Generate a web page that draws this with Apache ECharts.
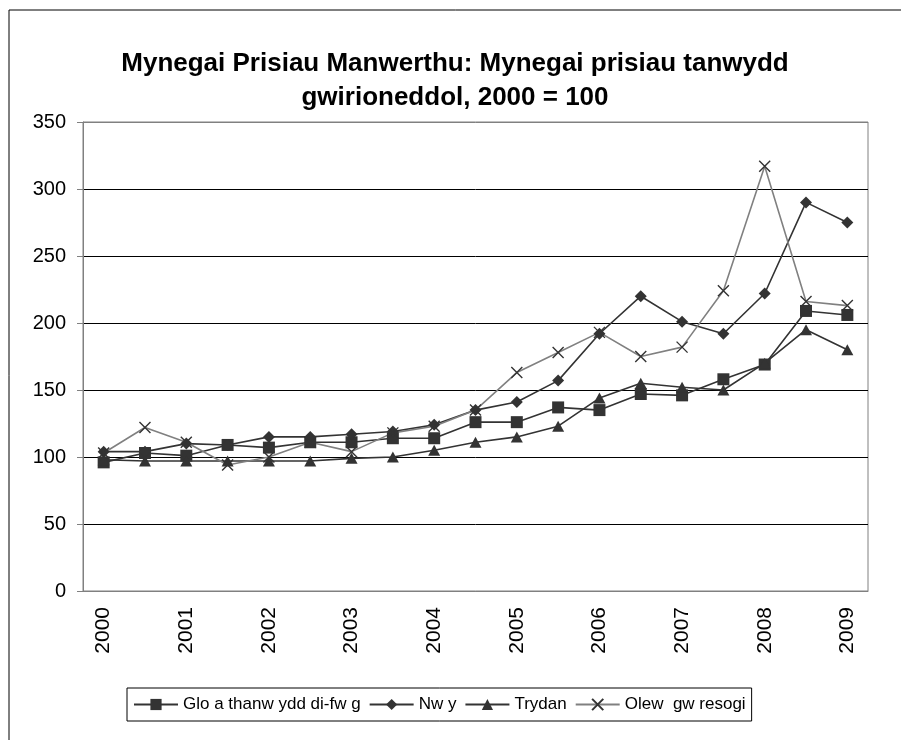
<!DOCTYPE html>
<html>
<head>
<meta charset="utf-8">
<title>Mynegai prisiau tanwydd</title>
<script src="https://cdn.jsdelivr.net/npm/echarts@6/dist/echarts.min.js"></script>
<style>
  html, body { margin: 0; padding: 0; background: #fff; }
  #chart { width: 901px; height: 740px; }
</style>
</head>
<body>
<div id="chart"></div>
<script>
// tick labels: one per half-year, only the year start is labelled
var periods = ['2000', '', '2001', '', '2002', '', '2003', '', '2004', '', '2005', '', '2006', '', '2007', '', '2008', '', '2009'];

// series values
var glo    = [96, 103, 101, 109, 107, 111, 111, 114, 114, 126, 126, 137, 135, 147, 146, 158, 169, 209, 206];
var nwy    = [104, 104, 110, 109, 115, 115, 117, 119, 124, 135, 141, 157, 192, 220, 201, 192, 222, 290, 275];
var trydan = [98, 97, 97, 97, 97, 97, 99, 100, 105, 111, 115, 123, 144, 155, 152, 150, 170, 195, 180];
var olew   = [103, 122, 111, 94, 100, 111, 104, 118, 123, 135, 163, 178, 193, 175, 182, 224, 317, 216, 213];

var names = ['Glo a thanw ydd di-fw g', 'Nw y', 'Trydan', 'Olew  gw resogi'];

var font = 'Liberation Sans, Arial, sans-serif';
var dark = '#333333';
var grey = '#808080';
var cross = 'path://M0,0L10,10M10,0L0,10';

var myChart = echarts.init(document.getElementById('chart'));

function line(name, data, symbol, size, lineColor) {
  return {
    name: name,
    type: 'line',
    data: data,
    symbol: symbol,
    symbolSize: size,
    showAllSymbol: true,
    animation: false,
    lineStyle: { color: lineColor, width: 1.6 },
    itemStyle: symbol === cross
      ? { color: 'rgba(0,0,0,0)', borderColor: dark, borderWidth: 1.4 }
      : { color: dark, borderColor: dark, borderWidth: 0 }
  };
}

var option = {
  backgroundColor: '#fff',
  textStyle: { fontFamily: font },
  title: {
    text: 'Mynegai Prisiau Manwerthu: Mynegai prisiau tanwydd\ngwirioneddol, 2000 = 100',
    left: 450,
    top: 42,
    textAlign: 'center',
    textStyle: {
      fontFamily: font,
      fontSize: 26,
      fontWeight: 'bold',
      color: '#000',
      lineHeight: 34
    }
  },
  graphic: [{
    type: 'rect',
    shape: { x: 9, y: 10, width: 1200, height: 1200 },
    style: { fill: 'none', stroke: '#000', lineWidth: 1 },
    silent: true
  }],
  legend: {
    left: 127,
    top: 688,
    padding: [8, 6],
    itemGap: 8,
    itemWidth: 44,
    itemHeight: 14,
    borderColor: '#000',
    borderWidth: 1,
    textStyle: { fontFamily: font, fontSize: 17, color: '#000' },
    data: names
  },
  grid: {
    left: 83,
    right: 33,
    top: 122,
    bottom: 149,
    show: true,
    borderColor: grey,
    borderWidth: 1
  },
  xAxis: {
    type: 'category',
    data: periods,
    boundaryGap: true,
    axisLine: { lineStyle: { color: grey, width: 1 } },
    axisTick: { interval: 1, length: 6, lineStyle: { color: grey } },
    axisLabel: {
      interval: 0,
      rotate: 90,
      margin: 16,
      fontSize: 21,
      color: '#000',
      fontFamily: font
    },
    splitLine: { show: false }
  },
  yAxis: {
    type: 'value',
    min: 0,
    max: 350,
    interval: 50,
    axisLine: { show: true, lineStyle: { color: grey, width: 1 } },
    axisTick: { show: true, length: 6, lineStyle: { color: grey } },
    axisLabel: { margin: 17, fontSize: 20, color: '#000', fontFamily: font },
    splitLine: {
      lineStyle: {
        color: [grey, '#000', '#000', '#000', '#000', '#000', '#000', grey],
        width: 1
      }
    }
  },
  series: [
    line(names[0], glo, 'rect', 12, dark),
    line(names[1], nwy, 'diamond', 12, dark),
    line(names[2], trydan, 'triangle', [12, 11], dark),
    line(names[3], olew, cross, 11, grey)
  ]
};

myChart.setOption(option);
</script>
</body>
</html>
